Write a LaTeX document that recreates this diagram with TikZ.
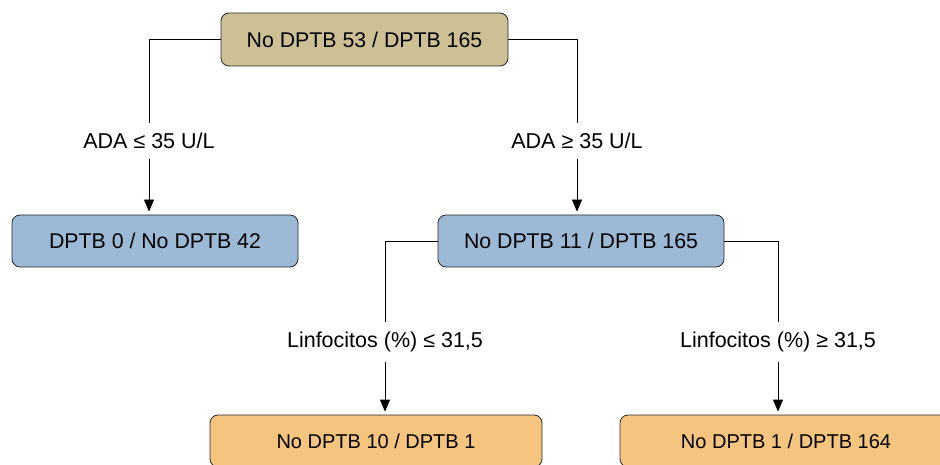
\documentclass[tikz,border=0pt]{standalone}
\usepackage{fontspec}
\setmainfont{Liberation Sans}
\usepackage{tikz}
\usetikzlibrary{shapes,arrows.meta}
\definecolor{rootfill}{RGB}{204,192,148}
\definecolor{splitfill}{RGB}{156,185,214}
\definecolor{leaffill}{RGB}{245,196,127}
\definecolor{edgegray}{RGB}{40,40,40}
\tikzstyle{root}=[draw=edgegray, line width=0.8pt, fill=rootfill, minimum width=287pt,
    minimum height=53pt, rounded corners=8pt, font=\fontsize{21.3}{25}\selectfont]
\tikzstyle{split}=[root, fill=splitfill, minimum width=286pt, minimum height=52pt]
\tikzstyle{leaf} = [root, fill=leaffill, minimum width=332pt, minimum height=52pt,
    font=\fontsize{20}{24}\selectfont]
\tikzstyle{branch}=[fill=white, inner xsep=2pt, inner ysep=10pt,
    font=\fontsize{21.5}{25}\selectfont]
\tikzstyle{link}=[draw=black, line width=0.8pt, shorten >=3pt,
    -{Triangle[width=10pt,length=12pt]}]

\begin{document}
\begin{tikzpicture}[x=1pt, y=-1pt]
\useasboundingbox (0,0) rectangle (940,465);
\clip (0,0) rectangle (940,465);
% Root
\path (364.5,39.5) node [root] (T) {No DPTB 53 / DPTB 165};
% ADA split
\path (155,241) node [split] (L) {DPTB 0 / No DPTB 42};
\path (581,241) node [split] (M) {No DPTB 11 / DPTB 165};
% Linfocitos split
\path (376,441) node [leaf] (ML) {No DPTB 10 / DPTB 1};
\path (786,441) node [leaf] (MR) {No DPTB 1 / DPTB 164};
% arrows
\draw [link] (T.west) -| node [branch, pos=0.79] {ADA ≤ 35 U/L} ([xshift=-6pt]L.north);
\draw [link] (T.east) -| node [branch, pos=0.79] {ADA ≥ 35 U/L} ([xshift=-4pt]M.north);
\draw [link] (M.west) -| node [branch, pos=0.79] {Linfocitos (\%) ≤ 31,5} ([xshift=9pt]ML.north);
\draw [link] (M.east) -| node [branch, pos=0.79] {Linfocitos (\%) ≥ 31,5} ([xshift=-8pt]MR.north);
\end{tikzpicture}
\end{document}
